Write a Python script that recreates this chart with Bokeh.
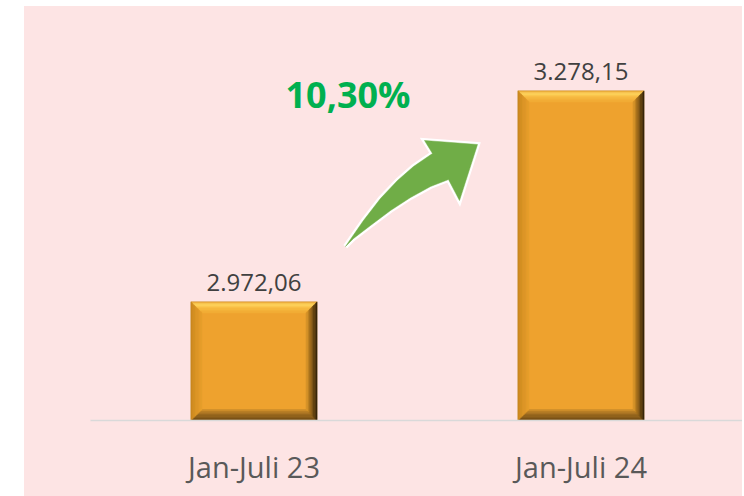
from bokeh.plotting import figure
from bokeh.models import Range1d, FixedTicker, Spacer, ColumnDataSource
from bokeh.layouts import row, column
from bokeh.core.properties import value
from bokeh.embed import file_html
from bokeh.resources import INLINE

# ---- data ----
CATEGORIES = ["Jan-Juli 23", "Jan-Juli 24"]
VALUES = [2972.06, 3278.15]
Y_MIN = 2800

# ---- layout constants ----
PAGE_LEFT, PAGE_TOP = 24, 6
FIG_W, FIG_H = 718, 490
BORDER_L = 66
FRAME_BOTTOM_PAGE = 420
FRAME_H = FRAME_BOTTOM_PAGE - PAGE_TOP
BORDER_B = FIG_H - FRAME_H
FRAME_W = FIG_W - BORDER_L
PX_PER_X = 327.0
PX_PER_Y = 0.6893
X0 = -0.5
X1 = X0 + FRAME_W / PX_PER_X
Y1 = Y_MIN + FRAME_H / PX_PER_Y
BAR_W = 126 / PX_PER_X
BG = "#FDE4E4"


def de_num(v):
    s = f"{v:,.2f}"
    return s.replace(",", "X").replace(".", ",").replace("X", ".")


def dx(px):
    return px / PX_PER_X


def dy(px):
    return px / PX_PER_Y


def page_to_data(X, Y):
    return X0 + (X - (PAGE_LEFT + BORDER_L)) / PX_PER_X, Y_MIN + (FRAME_BOTTOM_PAGE - Y) / PX_PER_Y


def hex2rgb(h):
    h = h.lstrip("#")
    return tuple(int(h[i:i + 2], 16) for i in (0, 2, 4))


def interp(stops, t):
    for (t0, c0), (t1, c1) in zip(stops, stops[1:]):
        if t0 <= t <= t1:
            f = 0 if t1 == t0 else (t - t0) / (t1 - t0)
            a, b = hex2rgb(c0), hex2rgb(c1)
            return "#%02x%02x%02x" % tuple(int(round(a[i] + (b[i] - a[i]) * f)) for i in range(3))
    return stops[-1][1]


p = figure(width=FIG_W, height=FIG_H, output_backend="svg", toolbar_location=None,
           x_range=Range1d(X0, X1), y_range=Range1d(Y_MIN, Y1),
           y_axis_location=None, min_border_left=BORDER_L, min_border_right=0,
           min_border_top=0, min_border_bottom=BORDER_B)
p.background_fill_color = None
p.border_fill_color = None
p.styles = {"background-color": BG}
p.outline_line_color = None
p.grid.visible = False

xs_idx = list(range(len(CATEGORIES)))
src = ColumnDataSource(dict(x=xs_idx, top=VALUES, lbl=[de_num(v) for v in VALUES]))

FACE = "#EEA22E"
p.vbar(x="x", top="top", bottom=Y_MIN, width=BAR_W, source=src,
       fill_color=FACE, line_color="#B88A40", line_width=0.6)

# bevel
BEVEL = 11.0
N = 8
TOP = [(0, "#E29A2C"), (0.25, "#FFD862"), (0.55, "#F8BE45"), (1, "#F0A932")]
RIGHT = [(0, "#2E1F08"), (0.3, "#5E3F10"), (0.7, "#A8721E"), (1, "#E29C2C")]
BOTTOM = [(0, "#6A4714"), (0.4, "#8A5E1C"), (0.8, "#B27A26"), (1, "#D8962C")]
LEFT = [(0, "#C8871F"), (0.5, "#DA9526"), (1, "#E89F2C")]

pxs, pys, pcs = [], [], []
for i, v in zip(xs_idx, VALUES):
    x0, x1 = i - BAR_W / 2, i + BAR_W / 2
    yb, yt = Y_MIN, v
    for k in range(N):
        d0, d1 = k * BEVEL / N, (k + 1) * BEVEL / N
        t = (k + 0.5) / N
        pxs.append([x0 + dx(d0), x1 - dx(d0), x1 - dx(d1), x0 + dx(d1)])
        pys.append([yt - dy(d0), yt - dy(d0), yt - dy(d1), yt - dy(d1)])
        pcs.append(interp(TOP, t))
        pxs.append([x0 + dx(d0), x1 - dx(d0), x1 - dx(d1), x0 + dx(d1)])
        pys.append([yb + dy(d0), yb + dy(d0), yb + dy(d1), yb + dy(d1)])
        pcs.append(interp(BOTTOM, t))
        pxs.append([x0 + dx(d0), x0 + dx(d0), x0 + dx(d1), x0 + dx(d1)])
        pys.append([yt - dy(d0), yb + dy(d0), yb + dy(d1), yt - dy(d1)])
        pcs.append(interp(LEFT, t))
        pxs.append([x1 - dx(d0), x1 - dx(d0), x1 - dx(d1), x1 - dx(d1)])
        pys.append([yt - dy(d0), yb + dy(d0), yb + dy(d1), yt - dy(d1)])
        pcs.append(interp(RIGHT, t))

p.patches(xs=pxs, ys=pys, fill_color=pcs, line_color=pcs, line_width=0.6)

# arrow decoration (outline in page pixels)
ARROW_PX = [(345, 246), (363, 220), (380, 198), (397, 180), (413, 166), (432, 153),
            (424, 140), (477, 144), (459, 200), (448, 179), (430, 186), (410, 197),
            (390, 210), (370, 225), (353, 238)]
ax, ay = zip(*[page_to_data(X, Y) for X, Y in ARROW_PX])
p.patch(list(ax), list(ay), fill_color="white", line_color="white", line_width=5,
        line_join="miter")
p.patch(list(ax), list(ay), fill_color="#70AD47", line_color="#70AD47", line_width=0.5)

# value labels
p.text(x="x", y="top", text="lbl", source=src, text_align="center",
       text_baseline="alphabetic", y_offset=-19, text_font=value("Open Sans"),
       text_font_size="24px", text_color="#404040")

# growth label
growth = (VALUES[1] / VALUES[0] - 1) * 100
gx, gy = page_to_data(347.5, 94)
p.text(x=[gx], y=[gy], text=[f"{growth:.2f}".replace(".", ",") + "%"],
       text_align="center", text_baseline="alphabetic", text_font=value("Open Sans"),
       text_font_style="bold", text_font_size="36px", text_color="#00B050")

# x axis
xa = p.xaxis[0]
xa.ticker = FixedTicker(ticks=xs_idx)
xa.major_label_overrides = {i: c for i, c in zip(xs_idx, CATEGORIES)}
xa.minor_tick_line_color = None
xa.major_tick_line_color = None
xa.axis_line_color = "#D9D9D9"
xa.axis_line_width = 1.5
xa.major_label_text_font = "Open Sans"
xa.major_label_text_font_size = "29px"
xa.major_label_text_color = "#595959"
xa.major_label_standoff = 20

layout = column(Spacer(width=FIG_W, height=PAGE_TOP),
                row(Spacer(width=PAGE_LEFT, height=FIG_H), p))
open("out.html", "w").write(file_html(layout, INLINE))
